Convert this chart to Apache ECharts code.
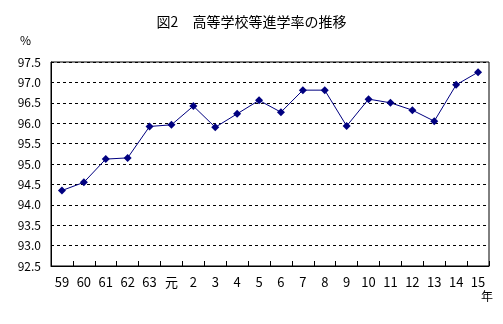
<!DOCTYPE html>
<html><head><meta charset="utf-8">
<script src="https://cdn.jsdelivr.net/npm/echarts@6/dist/echarts.min.js"></script>
<style>html,body{margin:0;padding:0;background:#fff}#c{width:503px;height:324px}</style>
</head><body><div id="c"></div>
<script>
const categories = ['59','60','61','62','63','元','2','3','4','5','6','7','8','9','10','11','12','13','14','15'];
const rates = [94.35,94.55,95.12,95.15,95.92,95.96,96.42,95.9,96.23,96.56,96.27,96.81,96.81,95.93,96.59,96.5,96.32,96.05,96.94,97.25];
const titleText = '図2\u3000高等学校等進学率の推移';
const yUnit = '%';
const xUnit = '年';
const font = '"Noto Sans CJK JP", "DejaVu Sans", sans-serif';

const chart = echarts.init(document.getElementById('c'), null, {renderer:'canvas'});
chart.setOption({
  animation:false,
  backgroundColor:'#fff',
  title:{text:titleText,left:'center',top:10,textStyle:{fontSize:14,fontWeight:'normal',color:'#000',fontFamily:font}},
  grid:{left:51,right:14,top:62,bottom:58,show:true,borderColor:'#000',borderWidth:1,backgroundColor:'transparent'},
  xAxis:{type:'category',data:categories,boundaryGap:true,
    axisLine:{lineStyle:{color:'#000',width:1}},
    axisTick:{show:true,inside:true,length:5,lineStyle:{color:'#000'}},
    axisLabel:{color:'#000',fontSize:13,fontFamily:font,margin:10,interval:0},
    splitLine:{show:false}},
  yAxis:{type:'value',min:92.5,max:97.5,interval:0.5,
    axisLine:{show:true,lineStyle:{color:'#000',width:1}},
    axisTick:{show:false},
    axisLabel:{color:'#000',fontSize:12,fontFamily:font,margin:10,formatter:v=>v.toFixed(1)},
    splitLine:{show:true,lineStyle:{color:'#000',type:[3,3],width:1}}},
  graphic:[
    {type:'text',left:20,top:34,style:{text:yUnit,fontSize:12,fill:'#000',fontFamily:font}},
    {type:'text',left:481,top:290,style:{text:xUnit,fontSize:12,fill:'#000',fontFamily:font}}
  ],
  series:[{type:'line',data:rates,symbol:'diamond',symbolSize:8,
    lineStyle:{color:'#000080',width:1},itemStyle:{color:'#000080'}}]
});
</script></body></html>
